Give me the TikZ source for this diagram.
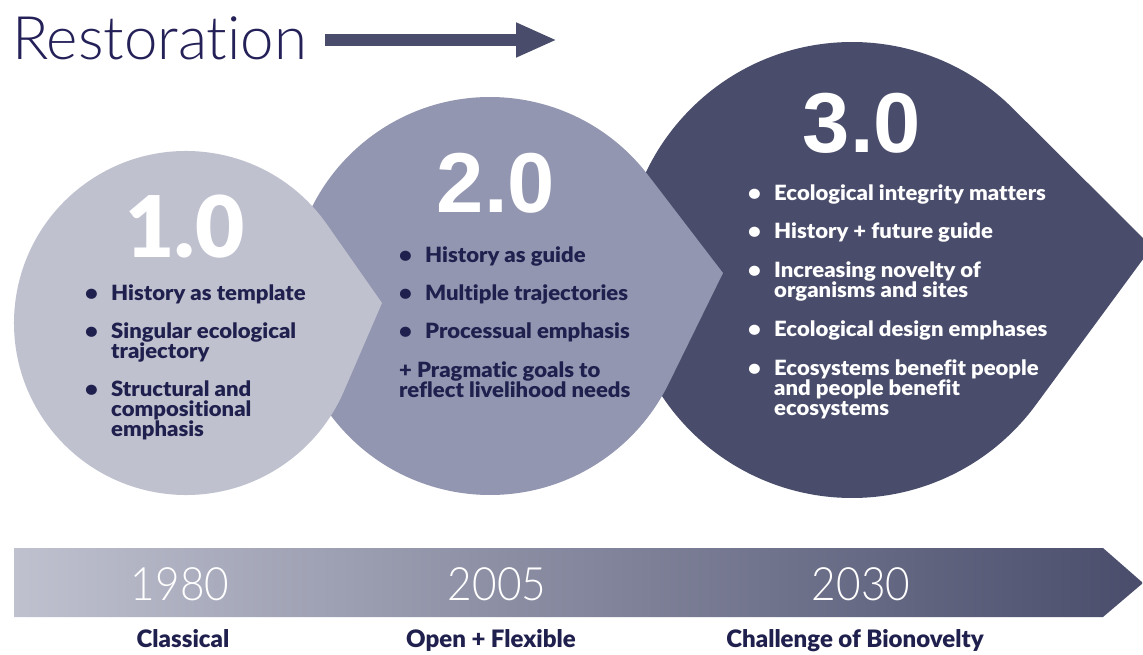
\documentclass[tikz,border=0pt]{standalone}
\usepackage{fontspec}
\defaultfontfeatures{Ligatures=NoCommon}
\setmainfont{Lato}
\newfontfamily\titlefont{Lato Light}
\newfontfamily\listfont{Lato Black}[FakeStretch=1.05]
\newfontfamily\onefont{Lato Black}
\newfontfamily\versionfont{Liberation Sans}
\newfontfamily\yearfont{Lato Light}[FakeStretch=0.92]
\newfontfamily\erafont{Lato Black}
\usetikzlibrary{arrows.meta}

\definecolor{leafone}{RGB}{191,193,207}
\definecolor{leaftwo}{RGB}{146,150,176}
\definecolor{leafthree}{RGB}{73,77,107}
\definecolor{inkblue}{RGB}{32,32,78}
\definecolor{titleblue}{RGB}{36,32,88}

\newcommand{\leafbullet}{\makebox[26pt][l]{\textbullet}}
\newcommand{\leafindent}{\hspace*{26pt}}

\begin{document}
\begin{tikzpicture}[x=1pt, y=1pt,
	leaf list/.style={anchor=north west, inner sep=0pt, align=left, font=\listfont\fontsize{21}{20}\selectfont, text=inkblue},
	version/.style={anchor=base, inner sep=0pt, font=\versionfont\bfseries\fontsize{85}{85}\selectfont, text=white},
	year/.style={anchor=base, inner sep=0pt, font=\yearfont\fontsize{46}{46}\selectfont, text=white},
	era/.style={anchor=base, inner sep=0pt, font=\erafont\fontsize{24}{24}\selectfont, text=inkblue}]

	%page
	\fill[white] (0,0) rectangle (1143,654);
	\useasboundingbox (0,0) rectangle (1143,654);

	%title and its arrow
	\node[anchor=base west, inner sep=0pt, font=\titlefont\fontsize{60}{60}\selectfont, text=titleblue] (title) at (12,594) {Restoration};
	\coordinate (arrowstart) at (325,614);
	\coordinate (arrowtip) at (557,614);
	\draw[leafthree, line width=12pt, -{Triangle[length=41pt, width=32pt]}] (arrowstart) -- (arrowtip);

	%leaf 3.0 first, leaf 2.0 lies over it
	\fill[leafthree] (1152,407) -- ([shift={(45.1:228)}]852,384) arc[start angle=45.1, end angle=323.6, radius=228] -- cycle;
	%leaf 2.0
	\fill[leaftwo] (723,381) -- ([shift={(37.4:199)}]490,358) arc[start angle=37.4, end angle=333.8, radius=199] -- cycle;
	%leaf 1.0 on top
	\fill[leafone] (382,351) -- ([shift={(35:172)}]186,331) arc[start angle=35, end angle=336.6, radius=172] -- cycle;

	%version numbers
	\node[version, font=\onefont\fontsize{85}{85}\selectfont] (v1) at (185,396) {1.0};
	\node[version] (v2) at (496,441) {2.0};
	\node[version] (v3) at (862,501) {3.0};

	%bullet lists
	\node[leaf list] (list1) at (85,369.4) {\leafbullet History as template\\[18pt]\leafbullet Singular ecological\\\leafindent trajectory\\[18pt]\leafbullet Structural and\\\leafindent compositional\\\leafindent emphasis};
	\node[leaf list] (list2) at (399,407.4) {\leafbullet History as guide\\[18pt]\leafbullet Multiple trajectories\\[18pt]\leafbullet Processual emphasis\\[19pt]+ Pragmatic goals to\\reflect livelihood needs};
	\node[leaf list, text=white] (list3) at (748,469.4) {\leafbullet Ecological integrity matters\\[18pt]\leafbullet History + future guide\\[19pt]\leafbullet Increasing novelty of\\\leafindent organisms and sites\\[19pt]\leafbullet Ecological design emphases\\[19pt]\leafbullet Ecosystems benefit people\\\leafindent and people benefit\\\leafindent ecosystems};

	%time bar
	\shade[left color=leafone, middle color=leaftwo, right color=leafthree] (14,106) -- (1103,106) -- (1143,71) -- (1103,37) -- (14,37) -- cycle;
	\node[year] (y1980) at (180,54) {1980};
	\node[year] (y2005) at (497,54) {2005};
	\node[year] (y2030) at (861,54) {2030};

	%eras
	\node[era] (classical) at (183,7) {Classical};
	\node[era] (open) at (491,7) {Open + Flexible};
	\node[era] (bionovelty) at (855,7) {Challenge of Bionovelty};

\end{tikzpicture}
\end{document}
